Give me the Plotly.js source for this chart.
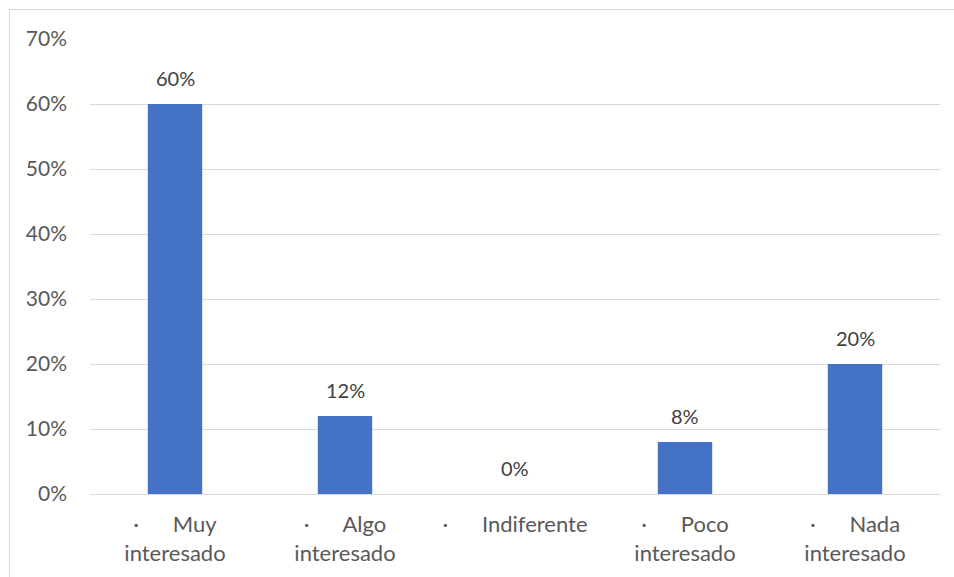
<!DOCTYPE html>
<html>
<head>
<meta charset="utf-8">
<script src="https://cdn.plot.ly/plotly-3.0.1.min.js"></script>
<style>
  html, body { margin: 0; padding: 0; background: #ffffff; }
  #chart { width: 954px; height: 577px; }
</style>
</head>
<body>
<div id="chart"></div>
<script>
// Nivel de interés: share of responses per option
const NB = '\u00a0';
const gap = NB.repeat(6);
const categories = [
  '·' + gap + 'Muy<br>interesado',
  '·' + gap + 'Algo<br>interesado',
  '·' + gap + 'Indiferente',
  '·' + gap + 'Poco<br>interesado',
  '·' + gap + 'Nada<br>interesado'
];
const shares = [0.60, 0.12, 0.00, 0.08, 0.20];
const yTicks = [0, 0.1, 0.2, 0.3, 0.4, 0.5, 0.6, 0.7];

const W = 954, H = 577;
const M = { l: 90, r: 14, t: 39, b: 83 };
const pw = W - M.l - M.r, ph = H - M.t - M.b;
// outer frame in paper coordinates
const px = v => (v - M.l) / pw;
const py = v => (H - M.b - v) / ph;

const FONT = 'Lato, "Open Sans", sans-serif';

const labels = shares.map((v, i) => ({
  x: categories[i],
  y: v,
  xref: 'x', yref: 'y',
  text: Math.round(v * 100) + '%',
  showarrow: false,
  yanchor: 'bottom',
  yshift: 12,
  font: { family: FONT, size: 20, color: '#404040' }
}));

const trace = {
  type: 'bar',
  x: categories,
  y: shares,
  marker: { color: '#4472c4' },
  hoverinfo: 'skip'
};

const layout = {
  width: W, height: H,
  margin: M,
  paper_bgcolor: '#ffffff',
  plot_bgcolor: '#ffffff',
  bargap: 0.68,
  showlegend: false,
  font: { family: FONT, size: 20, color: '#595959' },
  xaxis: {
    type: 'category',
    showgrid: false,
    showline: false,
    zeroline: false,
    ticks: '',
    ticklabelstandoff: 15,
    tickfont: { family: FONT, size: 22, color: '#595959' }
  },
  yaxis: {
    range: [0, 0.7],
    tickvals: yTicks,
    tickformat: '.0%',
    showgrid: true,
    gridcolor: '#d9d9d9',
    gridwidth: 1,
    zeroline: true,
    zerolinecolor: '#d9d9d9',
    zerolinewidth: 1,
    showline: false,
    ticks: '',
    ticklabelstandoff: 22,
    tickfont: { family: FONT, size: 21, color: '#595959' }
  },
  annotations: labels,
  shapes: [{
    type: 'rect', xref: 'paper', yref: 'paper',
    x0: px(9.5), x1: px(970), y0: py(590), y1: py(9.5),
    line: { color: '#d9d9d9', width: 1 },
    fillcolor: 'rgba(0,0,0,0)',
    layer: 'below'
  }]
};

Plotly.newPlot('chart', [trace], layout, { displayModeBar: false, staticPlot: true });
</script>
</body>
</html>
